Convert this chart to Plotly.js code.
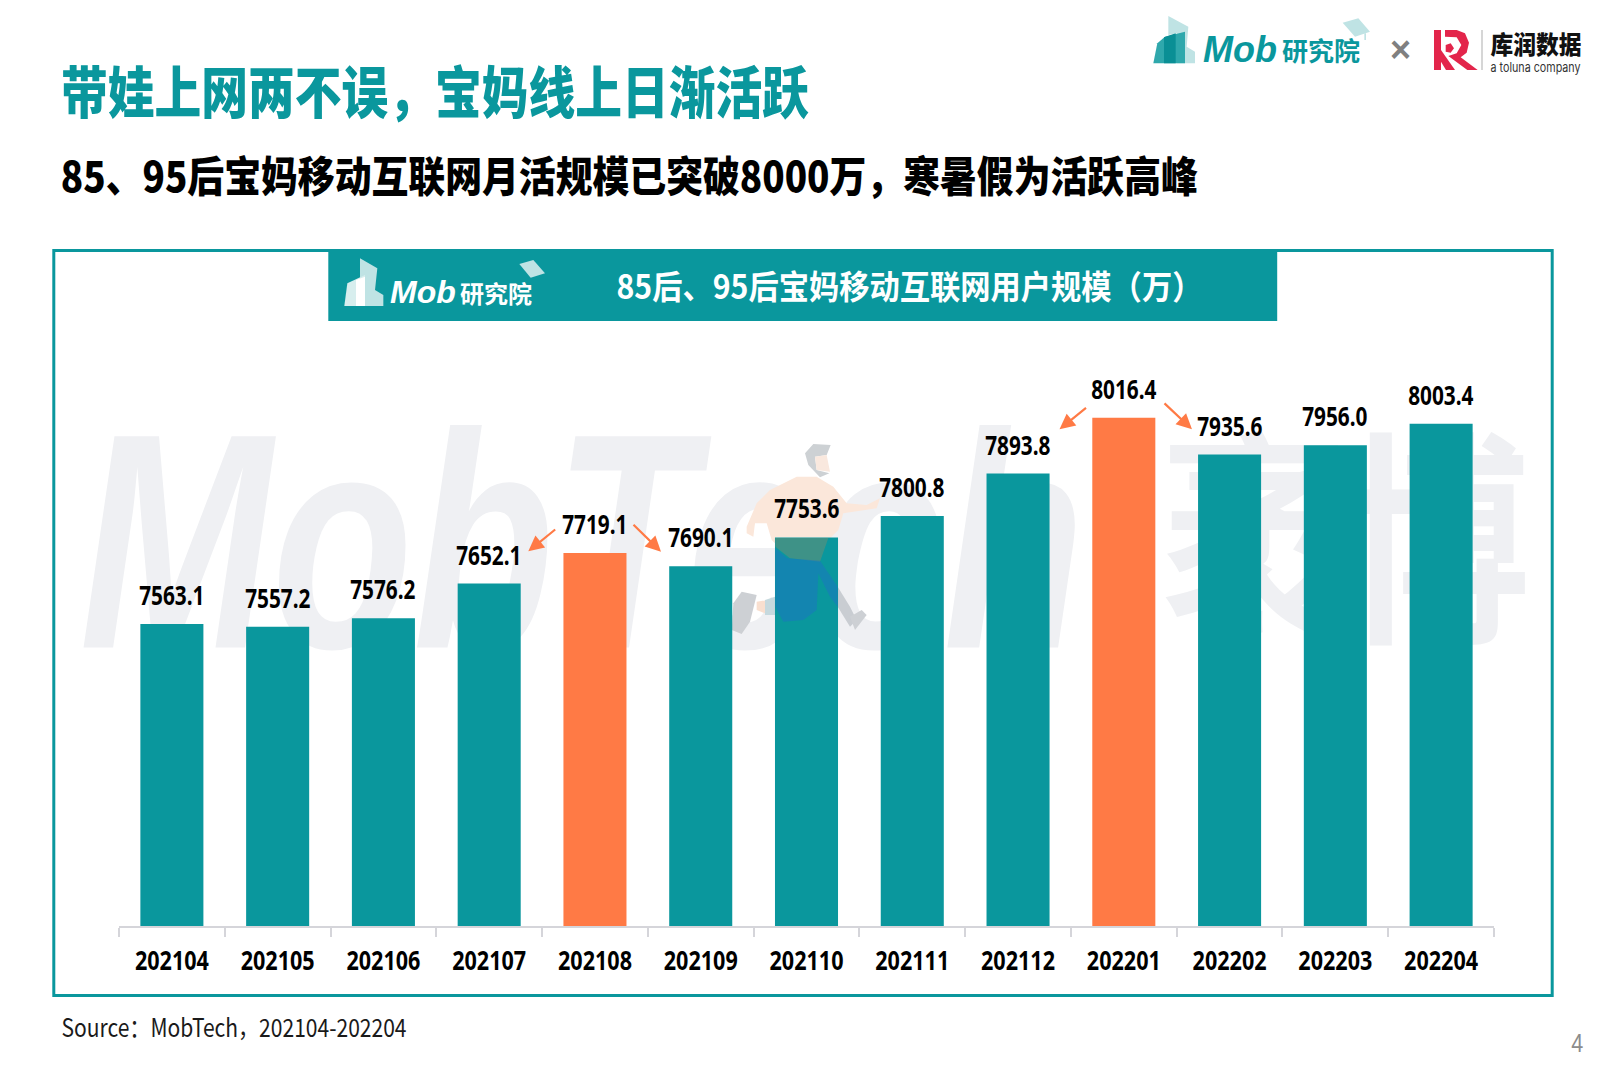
<!DOCTYPE html>
<html><head><meta charset="utf-8">
<script src="https://cdn.plot.ly/plotly-3.0.1.min.js"></script>
<style>html,body{margin:0;padding:0;background:#fff}#chart{width:1606px;height:1080px}</style>
</head><body><div id="chart"></div>
<script>
const categories=['202104','202105','202106','202107','202108','202109','202110','202111','202112','202201','202202','202203','202204'];
const users=[7563.1,7557.2,7576.2,7652.1,7719.1,7690.1,7753.6,7800.8,7893.8,8016.4,7935.6,7956.0,8003.4];
const highlighted=['202108','202201'];
const pageTitle='带娃上网两不误\uFF0C宝妈线上日渐活跃';
const subTitle='85、95后宝妈移动互联网月活规模已突破8000万\uFF0C寒暑假为活跃高峰';
const panelTitle='85后、95后宝妈移动互联网用户规模\uFF08万\uFF09';
const sourceNote='Source\uFF1AMobTech\uFF0C202104-202204';

const TEAL='#0A979D',ORANGE='#FF7A45',W=1606,H=1080;
const CJK='"Noto Sans CJK SC"';
const fx=x=>x/W, fy=y=>1-y/H;
const anns=[],fits=[];
function txt(text,cx,cy,size,color,opt={}){
  anns.push({text,x:fx(cx),y:fy(cy),xref:'paper',yref:'paper',xanchor:'center',yanchor:'middle',showarrow:false,
    font:{family:opt.family||CJK,size,color,weight:opt.weight||700,style:opt.style||'normal'}});
  fits.push(opt);
}
function arrow(x0,y0,x1,y1){
  anns.push({text:'',x:fx(x1),y:fy(y1),xref:'paper',yref:'paper',ax:x0-x1,ay:y0-y1,axref:'pixel',ayref:'pixel',
    showarrow:true,arrowhead:2,arrowsize:1.4,arrowwidth:2.2,arrowcolor:ORANGE,standoff:0});
  fits.push({});
}
const shapes=[];
function poly(pts,fill,layer='above',opacity=1,map=p=>p){
  const d=pts.map((p,i)=>{const q=map(p);return (i?'L':'M')+fx(q[0]).toFixed(5)+' '+fy(q[1]).toFixed(5)}).join(' ')+' Z';
  shapes.push({type:'path',xref:'paper',yref:'paper',path:d,fillcolor:fill,line:{width:0},layer,opacity});
}
function rect(x0,y0,x1,y1,fill,lineColor,lw,layer='below'){
  shapes.push({type:'rect',xref:'paper',yref:'paper',x0:fx(x0),x1:fx(x1),y0:fy(y0),y1:fy(y1),fillcolor:fill,line:{color:lineColor||'rgba(0,0,0,0)',width:lw||0},layer});
}
function mark(text,cx,cy,halfW,size,family,weight,style){
  shapes.push({type:'rect',xref:'paper',yref:'paper',x0:fx(cx-halfW),x1:fx(cx+halfW),y0:fy(cy+170),y1:fy(cy-170),
    fillcolor:'rgba(0,0,0,0)',line:{width:0},layer:'below',
    label:{text,textposition:'middle center',font:{family,size,color:'#EFF0F3',weight,style}}});
}

/* frame and header band */
rect(53.8,250.5,1552.2,995.4,'rgba(0,0,0,0)',TEAL,3);
rect(328.3,249,1277.2,321,TEAL);

/* watermark */
mark('MobTech',582,512,520,307,'"Liberation Sans"',700,'italic');
mark('袤',1254,562,100,226,CJK,700,'normal');
mark('博',1437,562,100,226,CJK,700,'normal');

/* runner illustration */
const rz=p=>[700+p[0]/3,430+p[1]/3];
poly([[140,290],[170,220],[210,180],[290,140],[350,140],[400,170],[440,220],[500,225],[540,205],[530,235],[430,250],[415,300],[385,330],[360,400],[250,380],[225,340],[215,330],[200,280],[165,280],[160,320],[140,310]],'#FBE7DA','below',1,rz);
poly([[315,70],[340,42],[392,45],[380,75],[345,80],[350,120],[388,130],[360,142],[325,105]],'#CDD1D4','below',1,rz);
poly([[345,80],[380,75],[390,125],[350,120]],'#F9E8DE','below',1,rz);
poly([[413,470],[450,530],[470,570],[450,590],[413,530]],'#C9CDD2','below',1,rz);
poly([[100,520],[125,485],[170,495],[150,575],[125,612],[95,600]],'#CDD0D4','below',1,rz);
poly([[450,560],[485,540],[500,555],[465,600]],'#CDD0D4','below',1,rz);
poly([[170,515],[205,510],[195,550],[170,540]],'#F9DFCF','below',1,rz);
poly([[195,510],[225,500],[225,555],[195,555]],'#C6D9DE','below',1,rz);
poly([[226,324],[385,324],[360,395],[270,385],[226,350]],'rgba(250,130,60,0.22)','above',1,rz);
poly([[226,355],[262,385],[360,392],[413,470],[413,530],[390,500],[355,430],[350,540],[310,570],[250,575],[226,530]],'rgba(30,110,200,0.45)','above',1,rz);

/* top-right Mob logo */
const t=p=>[1140+p[0]/3,p[1]/3];
poly([[85,48],[145,80],[140,140],[165,155],[165,190],[110,190],[110,100],[85,105]],'#BFE3E4','above',1,t);
poly([[40,190],[52,130],[75,110],[135,95],[135,145],[135,190]],'#2FA8AC','above',1,t);
poly([[72,112],[107,100],[107,190],[72,190]],'#0A8F95','above',1,t);
poly([[608,68],[655,55],[690,95],[645,110]],'#BFE3E4','above',1,t);
poly([[673,100],[678,100],[678,120],[673,120]],'#BFE3E4','above',1,t);
txt('Mob',1240,49,36,TEAL,{family:'"Liberation Sans"',weight:700,style:'italic'});
txt('研究院',1320.5,49,26,TEAL);
txt('×',1400,50,36,'#808080',{family:'"Liberation Sans"',weight:700});

/* R logo */
const RED='#E3254B';
poly([[882,90],[903,90],[903,210],[882,210]],RED,'above',1,t);
poly([[915,90],[950,90],[975,100],[987,128],[980,158],[962,172],[1013,210],[982,210],[925,168],[950,160],[964,135],[950,112],[915,110]],RED,'above',1,t);
poly([[903,150],[945,210],[918,210],[903,185]],RED,'above',1,t);
poly([[917,135],[932,130],[942,145],[932,158],[917,155]],RED,'above',1,t);
rect(1481.6,30,1482.4,70,'#999999',null,0,'above');
txt('库润数据',1535.5,43,25,'#111111',{w:91,weight:900});
txt('a toluna company',1535.5,67,13,'#333333',{w:90,family:'Inter',weight:400});

/* headers */
txt(pageTitle,435,89,56,TEAL,{w:748,weight:900});
txt(subTitle,629.5,173,42,'#000000',{w:1137,weight:900});
txt(panelTitle,909,285,33,'#FFFFFF',{w:586});

/* panel logo */
const h=p=>[320+p[0]/3,240+p[1]/3];
poly([[120,55],[172,85],[165,150],[190,165],[190,198],[135,198],[135,108],[120,115]],'#BFE3E4','above',1,h);
poly([[73,198],[82,130],[135,105],[135,198]],'#D7EEEE','above',1,h);
poly([[108,120],[135,110],[135,198],[108,198]],'#FFFFFF','above',1,h);
poly([[598,72],[640,60],[675,100],[632,113]],'#BFE3E4','above',1,h);
txt('Mob',423,292,32,'#FFFFFF',{family:'"Liberation Sans"',weight:700,style:'italic'});
txt('研究院',496,292,24,'#FFFFFF');

/* footer */
txt(sourceNote,233.7,1026,25,'#1a1a1a',{w:345,weight:400});
txt('4',1577,1043,26,'#8c8c8c',{w:12,family:'"Liberation Sans"',weight:400});

/* data labels */
users.forEach((v,i)=>{
  anns.push({text:v.toFixed(1),x:i,y:v,xref:'x',yref:'y',yshift:29,xanchor:'center',yanchor:'middle',showarrow:false,
    font:{family:'"Noto Sans"',size:26,color:'#000',weight:700}});
  fits.push({f:0.8});
});
arrow(556.7,528.3,528.3,551.3);
arrow(632,523.3,661,551.7);
arrow(1087.5,406.7,1059.5,429.3);
arrow(1163,402,1192,429.3);

const trace={type:'bar',x:categories,y:users,width:0.596,
  marker:{color:categories.map(c=>highlighted.includes(c)?ORANGE:TEAL),line:{width:0}},hoverinfo:'x+y'};
const layout={width:W,height:H,margin:{l:0,r:0,t:0,b:0},paper_bgcolor:'#fff',plot_bgcolor:'rgba(0,0,0,0)',showlegend:false,
  xaxis:{type:'category',domain:[fx(119),fx(1494)],anchor:'y',range:[-0.5,12.5],tickson:'boundaries',ticks:'outside',ticklen:9,tickwidth:1.5,tickcolor:'#D5D5DA',
    showline:true,linecolor:'#D5D5DA',linewidth:1.5,showgrid:false,zeroline:false,tickangle:0,automargin:false,ticklabelstandoff:11,
    tickfont:{family:'"Noto Sans"',size:26,color:'#000',weight:700}},
  yaxis:{domain:[fy(926),fy(300)],range:[6900,8275],visible:false,fixedrange:true},
  shapes,annotations:anns};
const markWidths={'MobTech':1005,'袤':186,'博':186};
Plotly.newPlot('chart',[trace],layout,{displayModeBar:false}).then(gd=>{
  gd.querySelectorAll('.annotation').forEach((g,i)=>{
    const el=g.querySelector('.annotation-text');const o=fits[i]||{};
    if(!el||!el.textContent)return;
    if(o.w)el.setAttribute('textLength',o.w);
    else if(o.f)el.setAttribute('textLength',el.getComputedTextLength()*o.f);
    if(o.w||o.f)el.setAttribute('lengthAdjust','spacingAndGlyphs');
  });
  gd.querySelectorAll('.xtick text').forEach(el=>{
    el.setAttribute('textLength',74);el.setAttribute('lengthAdjust','spacingAndGlyphs');
  });
  gd.querySelectorAll('text').forEach(el=>{
    const mw=markWidths[el.textContent];
    if(mw){el.setAttribute('textLength',mw);el.setAttribute('lengthAdjust','spacingAndGlyphs');}
  });
});
</script></body></html>
